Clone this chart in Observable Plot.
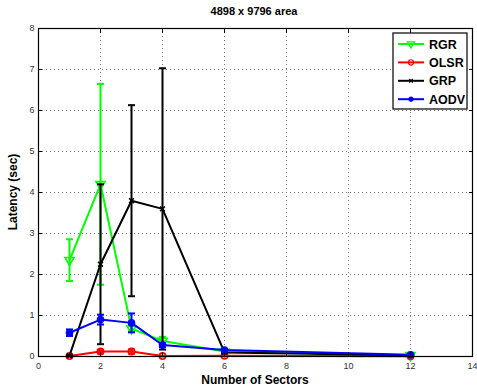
<!DOCTYPE html>
<html>
<head>
<meta charset="utf-8">
<script src="https://cdn.jsdelivr.net/npm/d3@7"></script>
<script src="https://cdn.jsdelivr.net/npm/@observablehq/plot@0.6"></script>
<style>
  html, body { margin: 0; padding: 0; background: #fff; }
  svg { display: block; font-family: "Liberation Sans", Arial, sans-serif; }
</style>
</head>
<body>
<div id="chart"></div>
<script>
// Latency vs. number of sectors, mean ± error per protocol
const sectors = [1, 2, 3, 4, 6, 12];

const rgr     = [2.35, 4.20, 0.68, 0.38, 0.12, 0.03];
const rgrErr  = [0.51, 2.45, 0.07, 0.10, 0.02, 0.01];

const olsr    = [0.01, 0.12, 0.12, 0.01, 0.02, 0.005];
const olsrErr = [0.01, 0.04, 0.05, 0.01, 0.01, 0.005];

const grp     = [0.02, 2.25, 3.80, 3.60, 0.10, 0.03];
const grpErr  = [0.01, 1.95, 2.33, 3.43, 0.02, 0.01];

const aodv    = [0.58, 0.90, 0.82, 0.28, 0.16, 0.04];
const aodvErr = [0.08, 0.12, 0.23, 0.05, 0.02, 0.01];

const xTicks = [0, 2, 4, 6, 8, 10, 12, 14];
const yTicks = [0, 1, 2, 3, 4, 5, 6, 7, 8];

const series = [
  {name: "RGR",  color: "#00ff00", values: rgr,  err: rgrErr,  symbol: "triangle", rotate: 180, r: 3.4, fill: "none"},
  {name: "OLSR", color: "#ff0000", values: olsr, err: olsrErr, symbol: "circle",   rotate: 0,   r: 3.2, fill: "none"},
  {name: "GRP",  color: "#000000", values: grp,  err: grpErr,  symbol: "times",    rotate: 0,   r: 2.3, fill: "none"},
  {name: "AODV", color: "#0000ff", values: aodv, err: aodvErr, symbol: "circle",   rotate: 0,   r: 3,   fill: "#0000ff"}
];

const rows = series.map(s => sectors.map((x, i) => ({
  x, y: s.values[i], lo: s.values[i] - s.err[i], hi: s.values[i] + s.err[i]
})));

// horizontal cap for the error bars
const capSymbol = {
  draw(ctx, size) {
    const w = Math.sqrt(size / Math.PI);
    ctx.moveTo(-w, 0);
    ctx.lineTo(w, 0);
  }
};

const seriesMarks = series.flatMap((s, k) => [
  Plot.ruleX(rows[k], {x: "x", y1: "lo", y2: "hi", stroke: s.color, strokeWidth: 2}),
  Plot.dot(rows[k], {x: "x", y: "lo", symbol: capSymbol, r: 3.5, stroke: s.color, strokeWidth: 2}),
  Plot.dot(rows[k], {x: "x", y: "hi", symbol: capSymbol, r: 3.5, stroke: s.color, strokeWidth: 2}),
  Plot.line(rows[k], {x: "x", y: "y", stroke: s.color, strokeWidth: 2}),
  Plot.dot(rows[k], {x: "x", y: "y", symbol: s.symbol, rotate: s.rotate, r: s.r,
                     stroke: s.color, fill: s.fill, strokeWidth: 1.6})
]);

const tickStyle = {fontSize: 9, fill: "#333"};

const chart = Plot.plot({
  width: 477,
  height: 392,
  marginLeft: 38,
  marginRight: 5,
  marginTop: 28,
  marginBottom: 36,
  style: {fontFamily: "Liberation Sans, Arial, sans-serif", background: "#fff"},
  x: {domain: [0, 14]},
  y: {domain: [0, 8]},
  marks: [
    Plot.gridX(xTicks.slice(1, -1), {stroke: "#777", strokeOpacity: 1, strokeDasharray: "1,3"}),
    Plot.gridY(yTicks.slice(1, -1), {stroke: "#777", strokeOpacity: 1, strokeDasharray: "1,3"}),
    ...seriesMarks,
    // inward ticks on all four sides
    Plot.axisX(xTicks, {anchor: "bottom", tickSize: -4, text: null, label: null, strokeWidth: 1}),
    Plot.axisX(xTicks, {anchor: "top", tickSize: -4, text: null, label: null, strokeWidth: 1}),
    Plot.axisY(yTicks, {anchor: "left", tickSize: -4, text: null, label: null, strokeWidth: 1}),
    Plot.axisY(yTicks, {anchor: "right", tickSize: -4, text: null, label: null, strokeWidth: 1}),
    // tick labels
    Plot.axisX(xTicks, {anchor: "bottom", tickSize: 0, tickPadding: 6, label: null, ...tickStyle}),
    Plot.axisY(yTicks, {anchor: "left", tickSize: 0, tickPadding: 4, label: null, ...tickStyle}),
    Plot.frame({stroke: "#000", strokeWidth: 1.2})
  ]
});

const svg = d3.select(chart);

svg.append("text")
  .attr("x", 254).attr("y", 15)
  .attr("text-anchor", "middle")
  .attr("font-size", 11).attr("font-weight", "bold")
  .text("4898 x 9796 area");

svg.append("text")
  .attr("x", 255).attr("y", 384)
  .attr("text-anchor", "middle")
  .attr("font-size", 12).attr("font-weight", "bold")
  .text("Number of Sectors");

svg.append("text")
  .attr("transform", "translate(17,192) rotate(-90)")
  .attr("text-anchor", "middle")
  .attr("font-size", 12).attr("font-weight", "bold")
  .text("Latency (sec)");

// legend box
const lg = svg.append("g").attr("transform", "translate(393,33)");
lg.append("rect").attr("width", 74).attr("height", 76)
  .attr("fill", "#fff").attr("stroke", "#000").attr("stroke-width", 1.2);

const legendSymbol = {
  RGR: d3.symbol(d3.symbolTriangle, 22),
  OLSR: d3.symbol(d3.symbolCircle, 22),
  GRP: d3.symbol(d3.symbolTimes, 10),
  AODV: d3.symbol(d3.symbolCircle, 14)
};

series.forEach((s, i) => {
  const cy = 11 + i * 18.4;
  const g = lg.append("g").attr("transform", `translate(0,${cy})`);
  g.append("line").attr("x1", 5).attr("x2", 31).attr("stroke", s.color).attr("stroke-width", 2);
  g.append("path")
    .attr("d", legendSymbol[s.name]())
    .attr("transform", `translate(18,0) rotate(${s.rotate})`)
    .attr("fill", s.fill).attr("stroke", s.color).attr("stroke-width", 1.2);
  g.append("text").attr("x", 36).attr("y", 0).attr("dy", "0.36em")
    .attr("text-anchor", "start")
    .attr("font-size", 12.5).attr("font-weight", "bold").text(s.name);
});

document.getElementById("chart").appendChild(chart);
</script>
</body>
</html>
